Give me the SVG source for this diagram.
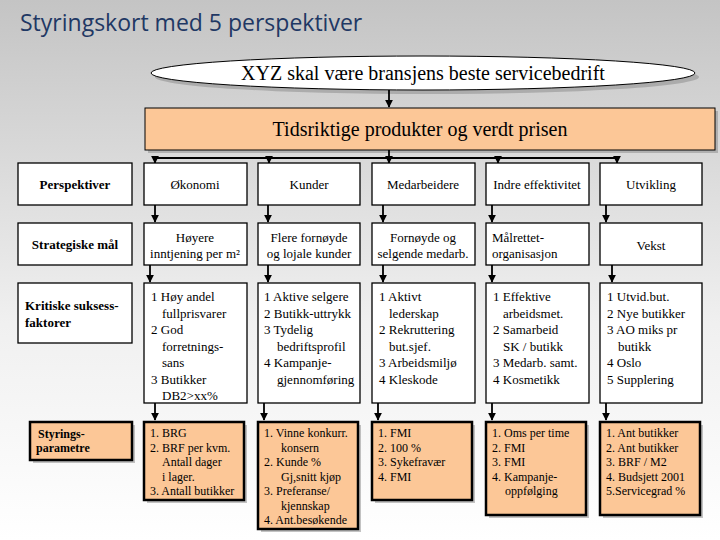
<svg xmlns="http://www.w3.org/2000/svg" width="720" height="540" viewBox="0 0 720 540" font-family="Liberation Serif, DejaVu Serif, serif">
<defs>
<linearGradient id="bg" x1="0" y1="0" x2="0" y2="1"><stop offset="0" stop-color="#c4c4c4"/><stop offset="0.6" stop-color="#f0f0f0"/><stop offset="1" stop-color="#ffffff"/></linearGradient>
<marker id="ah" viewBox="0 0 10 10" refX="9" refY="5" markerWidth="4.5" markerHeight="4.5" orient="auto"><path d="M0,0L10,5L0,10z" fill="#000"/></marker>
<style>
.w{fill:#fff;stroke:#000;stroke-width:1.3}
.o{fill:#fcc797;stroke:#000;stroke-width:2.5}
.sh{fill:#888;opacity:0.5}
.t{font-size:13px}
.s{font-size:12px}
.b{font-weight:bold;font-size:13px}
.c{text-anchor:middle}
#conn line{stroke:#000;stroke-width:1.8;fill:none}
</style>
</defs>
<rect width="720" height="540" fill="url(#bg)"/>
<text x="20" y="31" font-family="Open Sans, Noto Sans, sans-serif" font-size="23" fill="#1f3864">Styringskort med 5 perspektiver</text>

<g id="vision"><ellipse cx="427" cy="77" rx="272" ry="17" class="sh"/><ellipse cx="423" cy="73" rx="272" ry="17" fill="#fff" stroke="#000" stroke-width="1"/><text x="423" y="80" class="c" font-size="20">XYZ skal være bransjens beste servicebedrift</text></g>
<g id="strategy"><rect x="148" y="111" width="570" height="42" class="sh"/><rect x="145" y="108" width="570" height="42" fill="#fcc797" stroke="#000" stroke-width="1"/><text x="420" y="136" class="c" font-size="20">Tidsriktige produkter og verdt prisen</text></g>

<g id="conn">
<line x1="389" y1="90" x2="389" y2="107" marker-end="url(#ah)"/>
<line x1="389" y1="150" x2="389" y2="158"/>
<line x1="155" y1="158" x2="618" y2="158"/>
<line x1="155" y1="158" x2="155" y2="163" marker-end="url(#ah)"/>
<line x1="269" y1="158" x2="269" y2="163" marker-end="url(#ah)"/>
<line x1="389" y1="158" x2="389" y2="163" marker-end="url(#ah)"/>
<line x1="498" y1="158" x2="498" y2="163" marker-end="url(#ah)"/>
<line x1="617" y1="158" x2="617" y2="163" marker-end="url(#ah)"/>
<line x1="155" y1="205" x2="155" y2="222" marker-end="url(#ah)"/>
<line x1="268" y1="205" x2="268" y2="222" marker-end="url(#ah)"/>
<line x1="383" y1="205" x2="383" y2="222" marker-end="url(#ah)"/>
<line x1="492" y1="205" x2="492" y2="222" marker-end="url(#ah)"/>
<line x1="606" y1="205" x2="606" y2="222" marker-end="url(#ah)"/>
<line x1="150" y1="265" x2="150" y2="282" marker-end="url(#ah)"/>
<line x1="268" y1="265" x2="268" y2="282" marker-end="url(#ah)"/>
<line x1="383" y1="265" x2="383" y2="282" marker-end="url(#ah)"/>
<line x1="492" y1="265" x2="492" y2="282" marker-end="url(#ah)"/>
<line x1="612" y1="265" x2="612" y2="282" marker-end="url(#ah)"/>
<line x1="155" y1="403" x2="155" y2="420" marker-end="url(#ah)"/>
<line x1="264" y1="403" x2="264" y2="420" marker-end="url(#ah)"/>
<line x1="378" y1="403" x2="378" y2="420" marker-end="url(#ah)"/>
<line x1="492" y1="403" x2="492" y2="420" marker-end="url(#ah)"/>
<line x1="606" y1="403" x2="606" y2="420" marker-end="url(#ah)"/>
</g>

<g id="lbl1"><rect x="18" y="163" width="114" height="42" class="w"/><text x="75" y="189" class="b c">Perspektiver</text></g>
<g id="lbl2"><rect x="18" y="223" width="114" height="42" class="w"/><text x="75" y="249" class="b c">Strategiske mål</text></g>
<g id="lbl3"><rect x="18" y="283" width="114" height="60" class="w"/><text x="25" y="310" class="b">Kritiske suksess-</text><text x="25" y="327" class="b">faktorer</text></g>
<g id="lbl4"><rect x="33" y="425" width="102" height="38" class="sh"/><rect x="30" y="422" width="102" height="38" class="o"/><text x="38" y="438" font-weight="bold" font-size="12">Styrings-</text><text x="36" y="452" font-weight="bold" font-size="12">parametre</text></g>

<g id="okonomi"><rect x="144" y="163" width="103" height="42" class="w"/><text x="195" y="189" class="t c">Økonomi</text></g>
<g id="kunder"><rect x="258" y="163" width="102" height="42" class="w"/><text x="309" y="189" class="t c">Kunder</text></g>
<g id="medarb"><rect x="372" y="163" width="103" height="42" class="w"/><text x="423" y="189" class="t c">Medarbeidere</text></g>
<g id="indre"><rect x="486" y="163" width="103" height="42" class="w"/><text x="537" y="189" class="t c">Indre effektivitet</text></g>
<g id="utvikling"><rect x="600" y="163" width="102" height="42" class="w"/><text x="651" y="189" class="t c">Utvikling</text></g>

<g id="m1"><rect x="144" y="223" width="103" height="42" class="w"/><text x="195" y="242" class="t c">Høyere</text><text x="195" y="258" class="t c">inntjening per m²</text></g>
<g id="m2"><rect x="258" y="223" width="102" height="42" class="w"/><text x="309" y="242" class="t c">Flere fornøyde</text><text x="309" y="258" class="t c">og lojale kunder</text></g>
<g id="m3"><rect x="372" y="223" width="103" height="42" class="w"/><text x="423" y="242" class="t c">Fornøyde og</text><text x="423" y="258" class="t c">selgende medarb.</text></g>
<g id="m4"><rect x="486" y="223" width="103" height="42" class="w"/><text x="492" y="242" class="t">Målrettet-</text><text x="492" y="258" class="t">organisasjon</text></g>
<g id="m5"><rect x="600" y="223" width="102" height="42" class="w"/><text x="651" y="250" class="t c">Vekst</text></g>

<g id="k1"><rect x="144" y="283" width="103" height="120" class="w"/>
<text class="t"><tspan x="151" y="301">1 Høy andel</tspan><tspan x="162" y="318">fullprisvarer</tspan><tspan x="151" y="334">2 God</tspan><tspan x="162" y="351">forretnings-</tspan><tspan x="162" y="367">sans</tspan><tspan x="151" y="384">3 Butikker</tspan><tspan x="162" y="400">DB2&gt;xx%</tspan></text></g>
<g id="k2"><rect x="258" y="283" width="102" height="120" class="w"/>
<text class="t"><tspan x="264" y="301">1 Aktive selgere</tspan><tspan x="264" y="318">2 Butikk-uttrykk</tspan><tspan x="264" y="334">3 Tydelig</tspan><tspan x="277" y="351">bedriftsprofil</tspan><tspan x="264" y="367">4 Kampanje-</tspan><tspan x="277" y="384">gjennomføring</tspan></text></g>
<g id="k3"><rect x="372" y="283" width="103" height="120" class="w"/>
<text class="t"><tspan x="379" y="301">1 Aktivt</tspan><tspan x="389" y="318">lederskap</tspan><tspan x="379" y="334">2 Rekruttering</tspan><tspan x="389" y="351">but.sjef.</tspan><tspan x="379" y="367">3 Arbeidsmiljø</tspan><tspan x="379" y="384">4 Kleskode</tspan></text></g>
<g id="k4"><rect x="486" y="283" width="103" height="120" class="w"/>
<text class="t"><tspan x="493" y="301">1 Effektive</tspan><tspan x="503" y="318">arbeidsmet.</tspan><tspan x="493" y="334">2 Samarbeid</tspan><tspan x="503" y="351">SK / butikk</tspan><tspan x="493" y="367">3 Medarb. samt.</tspan><tspan x="493" y="384">4 Kosmetikk</tspan></text></g>
<g id="k5"><rect x="600" y="283" width="102" height="120" class="w"/>
<text class="t"><tspan x="607" y="301">1 Utvid.but.</tspan><tspan x="607" y="318">2 Nye butikker</tspan><tspan x="607" y="334">3 AO miks pr</tspan><tspan x="618" y="351">butikk</tspan><tspan x="607" y="367">4 Oslo</tspan><tspan x="607" y="384">5 Supplering</tspan></text></g>

<g id="p1"><rect x="147" y="425" width="100" height="78" class="sh"/><rect x="144" y="422" width="100" height="78" class="o"/>
<text class="s"><tspan x="150" y="437">1. BRG</tspan><tspan x="150" y="452">2. BRF per kvm.</tspan><tspan x="162" y="466">Antall dager</tspan><tspan x="162" y="481">i lager.</tspan><tspan x="150" y="495">3. Antall butikker</tspan></text></g>
<g id="p2"><rect x="261" y="425" width="100" height="107" class="sh"/><rect x="258" y="422" width="100" height="107" class="o"/>
<text class="s"><tspan x="264" y="437">1. Vinne konkurr.</tspan><tspan x="281" y="452">konsern</tspan><tspan x="264" y="466">2.  Kunde %</tspan><tspan x="281" y="481">Gj,snitt kjøp</tspan><tspan x="264" y="495">3.  Preferanse/</tspan><tspan x="281" y="510">kjennskap</tspan><tspan x="264" y="524">4. Ant.besøkende</tspan></text></g>
<g id="p3"><rect x="375" y="425" width="100" height="78" class="sh"/><rect x="372" y="422" width="100" height="78" class="o"/>
<text class="s"><tspan x="378" y="437">1. FMI</tspan><tspan x="378" y="452">2. 100 %</tspan><tspan x="378" y="466">3. Sykefravær</tspan><tspan x="378" y="481">4. FMI</tspan></text></g>
<g id="p4"><rect x="489" y="425" width="100" height="93" class="sh"/><rect x="486" y="422" width="100" height="93" class="o"/>
<text class="s"><tspan x="492" y="437">1. Oms per time</tspan><tspan x="492" y="452">2. FMI</tspan><tspan x="492" y="466">3. FMI</tspan><tspan x="492" y="481">4. Kampanje-</tspan><tspan x="505" y="495">oppfølging</tspan></text></g>
<g id="p5"><rect x="603" y="425" width="100" height="93" class="sh"/><rect x="600" y="422" width="100" height="93" class="o"/>
<text class="s"><tspan x="606" y="437">1. Ant butikker</tspan><tspan x="606" y="452">2. Ant butikker</tspan><tspan x="606" y="466">3. BRF / M2</tspan><tspan x="606" y="481">4. Budsjett 2001</tspan><tspan x="606" y="495">5.Servicegrad %</tspan></text></g>
</svg>
